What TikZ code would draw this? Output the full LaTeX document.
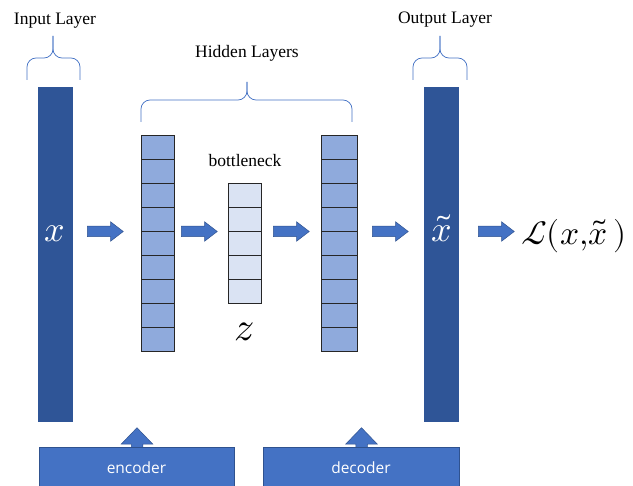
\documentclass[tikz,border=0pt]{standalone}
\usepackage{fontspec}
\usepackage{unicode-math}
\setmainfont{Liberation Serif}
\newfontfamily\uisans{Open Sans}
\usetikzlibrary{shapes.arrows}
\definecolor{barblue}{HTML}{2F5597}
\definecolor{cellblue}{HTML}{8FAADC}
\definecolor{cellpale}{HTML}{DAE3F3}
\definecolor{accent}{HTML}{4472C4}
\definecolor{accentdark}{HTML}{2F528F}
\begin{document}
\begin{tikzpicture}[x=1pt,y=-1pt,
  bar/.style={fill=barblue, draw=none, minimum width=35pt, minimum height=335pt, inner sep=0pt},
  cell/.style={draw=black!85, line width=0.7pt, fill=cellblue, minimum width=33pt, minimum height=24pt, inner sep=0pt},
  palecell/.style={cell, fill=cellpale},
  rarrow/.style={single arrow, anchor=tail, fill=accent, draw=accentdark, line width=0.5pt, minimum height=36pt, inner xsep=0pt, inner ysep=5pt, single arrow head extend=4.5pt, single arrow tip angle=75},
  uarrow/.style={single arrow, anchor=tail, rotate=90, fill=accent, draw=accentdark, line width=0.5pt, minimum height=20pt, inner xsep=0pt, inner ysep=5.5pt, single arrow head extend=10pt, single arrow tip angle=88},
  box/.style={fill=accent, draw=accentdark, line width=0.8pt, minimum width=195pt, minimum height=40pt, inner sep=0pt, text=white, font=\uisans\fontsize{15.5}{18}\selectfont},
  lbl/.style={font=\fontsize{17.5}{20}\selectfont, anchor=base, inner sep=0pt},
  brace/.style={draw=accent, line width=0.75pt, rounded corners=9pt},
]
\useasboundingbox (0,0) rectangle (633,486);

% braces
\draw[brace] (27,80) -- (27,58) -- (53,58) -- (53,36);
\draw[brace] (80,80) -- (80,58) -- (53,58) -- (53,36);
\draw[brace] (141,122) -- (141,100) -- (247,100) -- (247,82);
\draw[brace] (352,122) -- (352,100) -- (247,100) -- (247,82);
\draw[brace] (413,80) -- (413,58) -- (440,58) -- (440,36);
\draw[brace] (467,80) -- (467,58) -- (440,58) -- (440,36);

% labels
\node[lbl] (linput) at (55,25) {Input Layer};
\node[lbl] (lhidden) at (247,58) {Hidden Layers};
\node[lbl] (loutput) at (445,24) {Output Layer};
\node[lbl] (lbottle) at (245,167) {bottleneck};

% bars
\node[bar] (in) at (55.5,254.5) {};
\node[bar] (out) at (441.5,254.5) {};
\node[anchor=base, inner sep=0pt, text=white] (xin) at (55,242) {\fontsize{36}{40}\selectfont$x$};
\node[anchor=base, inner sep=0pt, text=white] (xout) at (442,242) {\fontsize{36}{40}\selectfont$\tilde{x}$};

% hidden layers
\foreach \i in {0,...,8} {
  \node[cell] (ha\i) at (157.5,{147+24*\i}) {};
  \node[cell, minimum width=36pt] (hc\i) at (339,{147+24*\i}) {};
}
\foreach \i in {0,...,4} {
  \node[palecell] (hb\i) at (244.5,{195+24*\i}) {};
}
\node[anchor=base, inner sep=0pt] (z) at (244,341) {\fontsize{40}{44}\selectfont$z$};

% right arrows
\node[rarrow] (a1) at (87,231.5) {};
\node[rarrow] (a2) at (181,231.5) {};
\node[rarrow] (a3) at (273,231.5) {};
\node[rarrow] (a4) at (372,231.5) {};
\node[rarrow] (a5) at (478,231.5) {};

% loss
\node[anchor=base west, inner sep=0pt] (loss) at (521,245) {\fontsize{33.5}{38}\selectfont$\mathcal{L}(x{,}\tilde{x}\,)$};

% encoder / decoder
\node[uarrow] (ue) at (137,448) {};
\node[uarrow] (ud) at (361.5,448) {};
\node[box] (enc) at (136.5,467.5) {encoder};
\node[box, minimum width=196pt] (dec) at (361,467.5) {decoder};
\end{tikzpicture}
\end{document}
